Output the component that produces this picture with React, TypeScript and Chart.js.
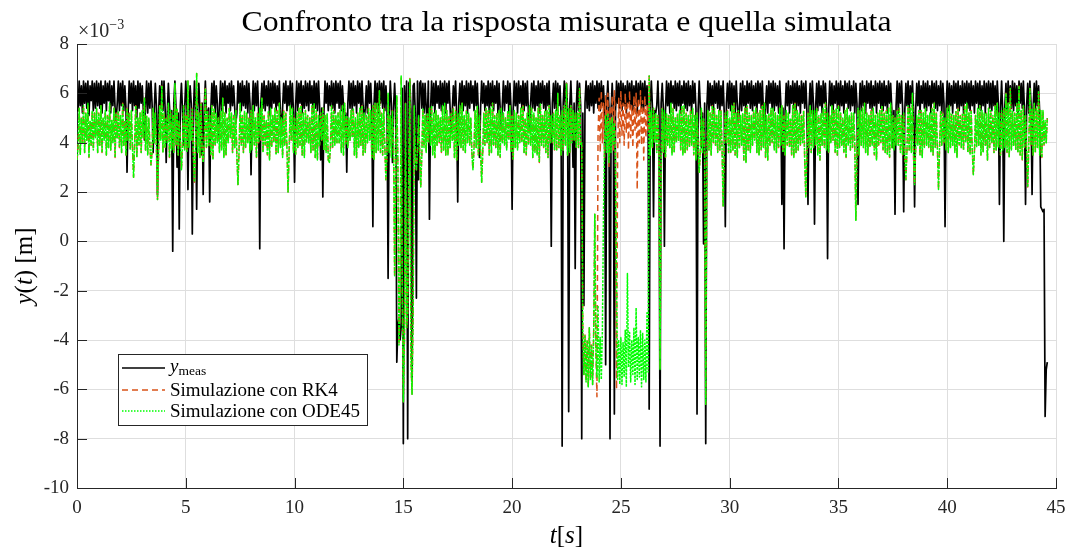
import React, { useEffect, useRef } from "react";
import { Chart, registerables } from "chart.js";

Chart.register(...registerables);

const SERIF = "'Liberation Serif', 'Times New Roman', serif";

// ---- axes / labels ----
const SAMPLE_STEP = 0.05; // seconds between samples
const X_MIN = 0;
const X_MAX = 45;
const X_STEP = 5;
const Y_MIN = -10;
const Y_MAX = 8;
const Y_STEP = 2;
const xTickValues = [0, 5, 10, 15, 20, 25, 30, 35, 40, 45];
const yTickValues = [-10, -8, -6, -4, -2, 0, 2, 4, 6, 8];
const TITLE = "Confronto tra la risposta misurata e quella simulata";
const LABEL_RK4 = "Simulazione con RK4";
const LABEL_ODE45 = "Simulazione con ODE45";

// ---- series (values in units of 1e-3 m, one sample every 0.05 s, 20 per row = 1 s) ----
const yMeas = [
  5.3, 5.3, 6.5, 5.5, 6.3, 5.2, 6.5, 5.6, 6.4, 5.4, 6.5, 5.1, 6.3, 5.7, 6.5, 5.3, 6.4, 5.4, 6.5, 5.5,
  6.4, 5.4, 6.5, 5.2, 6.3, 5.6, 6.5, 5.3, 6.4, 5.7, 6.5, 5.2, 6.3, 5.5, 6.5, 5.4, 4.9, 5.6, 6.5, 5.3,
  6.4, 5.5, 6.5, 5.3, 6.3, 5.4, 2.8, 5.2, 6.5, 5.6, 6.4, 5.3, 6.5, 5.5, 6.3, 5.0, 6.5, 5.4, 6.4, 5.6,
  6.3, 5.3, 4.1, 5.5, 6.5, 5.2, 6.4, 5.4, 6.5, 5.6, 3.6, 5.3, 6.4, 5.5, 1.9, 5.2, 6.3, 5.4, 6.5, 5.3,
  6.5, 5.4, 3.2, 5.2, 6.4, 5.5, 4.6, 5.3, -0.4, 5.6, 6.5, 5.4, 3.0, 5.2, 0.5, 5.5, 6.4, 5.3, 3.9, 5.4,
  6.5, 5.5, 2.1, 5.3, 6.3, 5.6, 0.3, 5.2, 6.5, 5.4, 1.3, 5.5, 6.4, 5.3, 3.5, 5.6, 1.9, 5.4, 6.5, 5.2,
  5.2, 5.4, 1.6, 5.3, 6.4, 5.5, 6.5, 5.2, 6.3, 5.6, 4.2, 5.4, 6.5, 5.3, 6.4, 5.5, 6.5, 5.2, 6.3, 5.6,
  6.4, 5.3, 6.5, 5.5, 6.3, 5.4, 4.8, 5.2, 6.5, 5.6, 6.4, 5.3, 6.5, 5.5, 6.3, 5.4, 6.5, 5.2, 6.4, 5.6,
  2.7, 5.4, 6.5, 5.3, 6.4, 5.5, 6.5, 5.2, -0.3, 5.6, 6.4, 5.4, 6.5, 5.3, 6.3, 5.5, 6.5, 5.1, 6.4, 5.4,
  6.5, 5.6, 6.4, 5.3, 6.3, 5.5, 6.5, 5.2, 4.5, 5.4, 6.4, 5.6, 6.5, 5.3, 6.3, 5.5, 6.5, 5.4, 6.4, 5.2,
  2.4, 5.5, 6.5, 5.3, 6.4, 5.6, 6.5, 5.2, 6.3, 5.4, 6.5, 5.5, 6.4, 5.3, 6.5, 5.6, 6.3, 5.2, 6.5, 5.4,
  6.4, 5.3, 6.5, 5.5, 3.3, 5.4, 1.8, 5.2, 6.5, 5.6, 6.4, 5.3, 6.3, 5.5, 6.5, 5.4, 6.4, 5.2, 6.5, 5.6,
  6.4, 5.4, 6.5, 5.3, 6.3, 5.5, 4.6, 5.2, 2.8, 5.6, 6.5, 5.4, 6.4, 5.3, 6.5, 5.5, 6.3, 5.2, 6.5, 5.6,
  6.4, 5.3, 6.5, 5.5, 4.9, 5.4, 6.3, 5.2, 6.5, 5.6, 6.4, 5.3, 0.6, 5.5, 6.5, 5.4, 6.4, 5.2, 6.5, 5.6,
  6.4, 5.4, 6.5, 5.3, 6.3, 5.5, -1.5, 5.2, 6.5, 5.6, 3.2, 5.4, 6.4, 5.3, -4.9, -3.4, -3.1, -4.0, -3.5, 6.2,
  -8.2, 6.3, 4.5, 6.5, -8.0, 6.4, 6.5, 5.3, -5.6, 6.3, 6.4, 5.2, -2.3, 6.5, 2.5, 6.4, 6.5, 5.4, 6.4, 5.2,
  6.4, 5.4, 4.8, 6.5, 0.9, 5.3, 6.5, 5.5, 6.4, 5.2, 6.5, 5.6, 6.3, 5.4, 6.5, 5.3, 6.4, 5.5, 6.5, 5.2,
  6.4, 5.6, 6.5, 5.4, 4.4, 5.3, 6.3, 5.5, 6.5, 5.2, 1.6, 5.6, 6.4, 5.4, 6.5, 5.3, 6.3, 5.5, 6.5, 5.2,
  6.4, 5.4, 6.5, 5.6, 6.3, 5.3, 6.5, 5.5, 6.4, 5.2, 3.4, 5.4, 6.5, 5.6, 6.4, 5.3, 6.3, 5.5, 6.5, 5.2,
  6.4, 5.5, 6.5, 5.3, 6.3, 5.6, 6.5, 5.2, 6.4, 5.4, 4.7, 5.5, 6.5, 5.3, 6.3, 5.6, 6.5, 5.2, 6.4, 5.4,
  1.3, 5.3, 6.5, 5.5, 6.4, 5.2, 6.5, 5.6, 6.3, 5.4, 6.5, 5.3, 6.4, 5.5, 6.5, 5.2, 4.5, 5.6, 6.4, 5.4,
  6.5, 5.3, 6.3, 5.5, 6.5, 5.2, 6.4, 5.6, 6.5, 5.4, 6.3, 5.3, 6.4, 5.5, 6.5, 5.2, -0.2, 5.6, 6.4, 5.4,
  6.5, 5.3, 6.4, 5.5, 6.3, 5.2, -8.3, 5.6, 6.5, 5.4, 6.4, 5.3, -6.9, 5.5, 6.5, 5.2, 3.0, 5.6, -1.1, 5.4,
  6.5, 5.3, 6.4, 5.5, -8.0, 5.2, -2.6, 5.6, 6.5, 5.4, 6.3, 5.3, 6.4, 5.5, 6.5, 5.2, 6.3, 5.6, 6.5, 5.4,
  6.4, 5.3, 6.5, 5.5, 6.3, 5.2, -5.0, 5.6, 6.5, 5.4, -8.0, 5.3, 6.4, 5.5, -7.0, 5.2, 6.5, 5.6, 6.4, 5.4,
  6.5, 5.3, 6.4, 5.5, 6.3, 5.2, 6.5, 5.6, 6.4, 5.4, 6.5, 5.3, 6.3, 5.5, 6.5, 5.2, 6.4, 5.6, 6.5, 5.4,
  6.4, 5.3, 6.5, 5.5, 6.3, 5.2, -6.8, 5.6, 6.5, 5.4, 1.0, 5.3, 5.2, 5.5, 6.5, 5.2, -8.3, 5.6, 6.4, 5.4,
  -0.2, 5.3, 6.5, 5.5, 6.4, 5.2, 6.5, 5.6, 6.3, 5.4, 6.5, 5.3, 6.4, 5.5, 6.5, 5.2, 6.3, 5.6, 6.5, 5.4,
  6.4, 5.3, 6.5, 5.5, 6.3, 5.2, 6.5, 5.6, 6.4, 5.4, -7.0, 5.3, 6.5, 5.5, 3.8, 5.2, -0.1, 5.6, -8.2, 5.4,
  6.5, 5.3, 6.4, 5.5, 6.3, 5.2, 6.5, 5.6, 6.4, 5.4, 6.5, 5.3, 6.3, 5.5, 6.5, 5.2, 0.6, 5.6, 6.4, 5.4,
  6.5, 5.3, 6.4, 5.5, 6.3, 5.2, 6.5, 5.6, 4.8, 5.4, 6.4, 5.3, 6.5, 5.5, 6.3, 5.2, 6.5, 5.6, 6.4, 5.4,
  6.5, 5.3, 6.3, 5.5, 6.4, 5.2, 6.5, 5.6, 6.4, 5.4, 6.5, 5.3, 4.4, 5.5, 6.3, 5.2, 6.5, 5.6, 6.4, 5.4,
  6.5, 5.3, 6.4, 5.5, 6.3, 5.2, 6.5, 5.6, 1.5, 5.4, -0.3, 5.3, 6.4, 5.5, 6.5, 5.2, 6.3, 5.6, 6.5, 5.4,
  6.4, 5.3, 6.5, 5.5, 6.3, 5.2, 6.5, 5.6, 6.4, 5.4, 6.5, 5.3, 1.5, 5.5, 6.4, 5.2, 6.5, 5.6, 0.7, 5.4,
  6.4, 5.3, 6.5, 5.5, 6.3, 5.2, 6.5, 5.6, 6.4, 5.4, -0.7, 5.3, 6.5, 5.5, 6.4, 5.2, 6.3, 5.6, 6.5, 5.4,
  6.4, 5.3, 6.5, 5.5, 6.3, 5.2, 6.5, 5.6, 6.4, 5.4, 6.5, 5.3, 6.3, 5.5, 6.5, 5.2, 6.4, 5.6, 1.5, 5.4,
  6.4, 5.3, 6.5, 5.5, 6.3, 5.2, 6.5, 5.6, 6.4, 5.4, 6.5, 5.3, 6.3, 5.5, 6.5, 5.2, 6.4, 5.6, 6.5, 5.4,
  6.4, 5.3, 6.5, 5.5, 6.3, 5.2, 6.5, 5.6, 6.4, 5.4, 3.8, 5.3, 1.1, 5.5, 6.5, 5.2, 6.4, 5.6, 6.5, 5.4,
  1.2, 5.3, 6.4, 5.5, 6.5, 5.2, 6.3, 5.6, 6.5, 5.4, 1.4, 5.3, 6.4, 5.5, 6.5, 5.2, 6.3, 5.6, 6.5, 5.4,
  6.4, 5.3, 6.5, 5.5, 6.3, 5.2, 6.5, 5.6, 6.4, 5.4, 6.5, 5.3, 6.3, 5.5, 6.5, 5.2, 6.4, 5.6, 0.6, 5.4,
  6.5, 5.3, 6.4, 5.5, 6.3, 5.2, 6.5, 5.6, 6.4, 5.4, 6.5, 5.3, 6.3, 5.5, 6.5, 5.2, 6.4, 5.6, 6.5, 5.4,
  6.4, 5.3, 6.5, 5.5, 6.3, 5.2, 6.5, 5.6, 6.4, 5.4, 6.5, 5.3, 6.3, 5.5, 6.5, 5.2, 6.4, 5.6, 6.5, 5.4,
  6.4, 5.3, 6.5, 5.5, 6.3, 5.2, 6.5, 5.6, 1.5, 5.4, 6.5, 5.3, 0.0, 5.5, 6.4, 5.2, 6.5, 5.6, 6.3, 5.4,
  6.5, 5.3, 6.4, 5.5, 6.3, 5.2, 6.5, 5.6, 6.4, 5.4, 6.5, 5.3, 1.5, 5.5, 6.4, 5.2, 6.5, 5.6, 1.9, 5.4,
  6.4, 5.3, 6.5, 5.5, 6.3, 5.2, 1.4, 1.3, 1.2, 1.3, -7.1, -5.2, -4.9,
];

const yRK4 = [
  3.3, 3.8, 5.4, 3.5, 5.0, 4.0, 5.5, 3.6, 5.2, 4.1, 5.6, 3.4, 4.9, 3.9, 5.3, 3.7, 5.2, 4.2, 5.4, 3.6,
  5.2, 3.9, 5.5, 3.6, 5.0, 4.1, 5.3, 3.5, 5.1, 3.8, 5.6, 3.7, 4.9, 4.0, 5.4, 3.4, 5.2, 4.2, 5.3, 3.8,
  5.1, 3.6, 5.6, 3.9, 4.9, 3.5, 5.4, 4.1, 5.2, 3.7, 5.3, 3.8, 2.6, 4.0, 5.5, 3.4, 5.0, 3.9, 5.2, 3.6,
  5.3, 4.2, 5.8, 3.7, 5.1, 3.5, 5.0, 3.9, 3.1, 3.6, 5.4, 4.0, 5.2, 3.8, 1.7, 3.5, 5.5, 4.1, 6.3, 3.6,
  5.2, 3.8, 5.0, 4.0, 5.6, 3.4, 5.3, 3.7, 5.1, 3.6, 6.4, 3.9, 5.4, 3.5, 4.9, 4.1, 2.9, 3.8, 5.5, 3.7,
  5.1, 3.6, 6.5, 3.8, 5.0, 4.1, 5.4, 3.5, 2.4, 3.9, 6.8, 3.6, 5.2, 3.4, 5.6, 3.7, 3.2, 4.0, 6.2, 3.8,
  5.3, 3.9, 5.1, 3.5, 5.5, 3.3, 5.4, 3.9, 5.2, 4.0, 5.0, 3.6, 5.3, 3.7, 5.8, 3.4, 5.2, 3.5, 5.0, 4.0,
  5.4, 4.2, 5.2, 3.6, 5.1, 3.8, 5.3, 3.4, 2.3, 3.7, 5.6, 3.9, 5.1, 3.6, 5.3, 3.8, 5.2, 4.0, 5.0, 3.6,
  5.3, 3.7, 5.5, 3.9, 5.0, 3.4, 5.2, 4.0, 5.4, 4.1, 5.8, 3.6, 5.1, 3.9, 4.9, 3.5, 5.3, 3.3, 5.4, 3.8,
  5.1, 4.0, 5.4, 3.5, 5.3, 3.6, 5.6, 3.8, 5.0, 3.4, 5.3, 3.9, 5.2, 3.8, 2.0, 3.6, 5.5, 4.1, 5.4, 3.6,
  5.0, 3.5, 5.2, 3.8, 5.4, 3.9, 5.5, 3.5, 5.2, 3.4, 5.3, 4.0, 5.1, 4.0, 5.0, 3.6, 5.5, 3.7, 5.6, 3.4,
  5.3, 3.3, 5.1, 3.9, 5.2, 4.1, 5.4, 3.7, 5.1, 3.6, 5.2, 3.3, 3.2, 3.8, 5.5, 3.8, 5.3, 3.9, 5.1, 4.0,
  5.2, 4.0, 5.3, 3.6, 5.5, 3.5, 5.6, 3.9, 5.1, 3.8, 5.0, 4.1, 5.3, 4.2, 5.4, 3.5, 5.0, 3.4, 5.2, 3.8,
  5.4, 3.9, 5.5, 3.5, 5.2, 3.6, 5.1, 4.0, 5.4, 4.1, 5.3, 3.4, 5.5, 3.3, 5.6, 3.6, 5.6, 3.7, 6.1, 3.6,
  5.2, 3.5, 5.4, 3.8, 2.5, 3.6, 6.0, 3.6, 5.1, 3.4, 5.3, 3.9, -1.4, 3.2, 5.9, 3.1, -4.2, -2.5, 6.7, -2.0,
  -6.5, -4.0, 5.6, -3.5, -2.9, 3.0, 6.6, -4.8, -6.2, -3.0, 5.5, 3.4, 2.9, 3.7, 5.1, 3.7, 2.2, 3.5, 5.4, 3.8,
  5.1, 3.6, 5.2, 4.0, 5.4, 3.9, 5.5, 3.5, 5.2, 3.4, 5.3, 3.9, 5.1, 4.0, 5.0, 3.6, 5.5, 3.7, 5.6, 3.5,
  5.3, 3.5, 5.1, 3.8, 5.2, 4.1, 5.4, 3.4, 5.3, 3.3, 5.2, 3.9, 5.5, 3.8, 5.6, 3.7, 5.1, 3.6, 5.3, 4.0,
  5.2, 3.9, 5.0, 3.6, 2.9, 3.8, 5.3, 3.8, 5.5, 3.5, 5.1, 3.7, 2.4, 3.6, 5.2, 3.9, 5.4, 4.0, 5.3, 3.5,
  5.4, 3.6, 5.6, 3.9, 5.1, 3.8, 5.2, 3.5, 5.3, 3.4, 5.4, 4.0, 5.2, 3.9, 5.0, 3.7, 5.3, 4.1, 5.5, 3.6,
  5.1, 3.3, 5.3, 3.8, 5.2, 3.7, 5.1, 4.0, 5.4, 4.0, 5.5, 3.6, 5.0, 3.5, 5.2, 3.9, 5.5, 3.9, 5.4, 3.4,
  5.2, 3.6, 5.0, 3.5, 5.4, 3.2, 5.6, 3.9, 5.1, 3.8, 5.3, 3.6, 5.3, 3.4, 5.5, 4.0, 5.1, 4.0, 5.2, 3.7,
  5.3, 3.7, 6.0, 3.8, 5.1, 3.5, 5.3, 3.7, 5.5, 3.9, 6.4, 3.5, 5.4, 3.6, 5.5, 4.0, 5.3, 4.1, 5.2, 3.8,
  5.2, 3.8, 6.2, 3.9, 4.0, -3.6, -5.4, -3.8, -5.7, -4.0, -5.9, -3.5, -5.6, -4.2, -5.8, -3.7, 1.1, -4.5, -6.3, 4.4,
  5.8, 3.6, 6.1, 4.0, 5.6, 3.4, 5.9, 4.2, 6.0, 3.0, 5.5, 4.1, 5.9, 3.7, 6.1, 4.3, -6.0, 3.5, 5.8, 4.0,
  6.1, 4.3, 5.6, 3.9, 6.0, 4.4, 5.7, 3.7, 6.1, 4.2, 5.5, 3.8, 5.9, 4.5, 6.0, 2.1, 5.8, 4.0, 6.1, 3.9,
  5.7, 3.3, 5.9, 4.2, 5.5, 4.4, 6.7, 3.5, 5.3, 3.8, 5.4, 4.0, 5.2, 3.6, 5.1, 3.9, -5.2, 3.2, 5.4, 3.6,
  5.3, 3.4, 5.2, 3.9, 5.1, 3.8, 5.6, 3.5, 5.4, 3.6, 5.0, 4.0, 5.2, 4.1, 5.3, 3.7, 5.5, 3.5, 5.5, 3.6,
  5.2, 3.7, 5.1, 3.8, 5.3, 3.9, 5.4, 3.5, 5.1, 3.3, 5.2, 3.9, 2.8, 3.6, 5.4, 3.6, 5.0, 3.6, -6.6, 3.4,
  5.3, 3.7, 5.2, 3.5, 5.5, 4.0, 5.4, 3.9, 5.1, 3.6, 5.3, 3.7, 5.3, 3.8, 1.4, 3.9, 5.2, 4.0, 5.3, 3.6,
  5.0, 3.6, 5.5, 3.7, 5.6, 3.5, 5.2, 3.4, 5.3, 3.8, 5.1, 3.9, 5.2, 3.3, 5.4, 3.2, 5.5, 3.7, 5.2, 3.6,
  5.1, 3.9, 5.3, 4.1, 5.4, 3.6, 5.2, 3.5, 5.3, 3.7, 5.5, 3.8, 5.6, 3.4, 5.1, 3.3, 5.2, 3.9, 5.4, 4.0,
  5.4, 3.7, 5.2, 3.6, 5.1, 3.8, 5.4, 3.9, 5.5, 3.6, 5.1, 3.5, 5.3, 3.9, 5.2, 3.8, 5.0, 3.5, 5.5, 3.4,
  5.6, 3.6, 5.3, 3.7, 5.2, 3.9, 5.1, 4.0, 5.3, 3.3, 1.8, 3.7, 5.2, 3.8, 5.5, 3.6, 5.3, 3.8, 5.3, 3.9,
  5.4, 3.5, 5.1, 3.3, 5.2, 3.9, 5.4, 3.8, 5.6, 3.7, 5.2, 3.6, 5.1, 4.0, 5.5, 4.1, 5.3, 3.6, 5.4, 3.5,
  5.5, 3.8, 5.2, 3.9, 5.0, 3.6, 5.3, 3.4, 5.4, 3.9, 5.1, 3.7, 5.2, 3.8, 5.2, 4.0, 0.85, 3.6, 5.4, 3.5,
  5.3, 3.9, 5.4, 3.8, 5.6, 3.6, 5.2, 3.5, 5.1, 3.8, 5.3, 3.9, 5.4, 3.5, 5.1, 3.3, 5.2, 3.9, 5.3, 4.0,
  5.5, 3.7, 5.2, 3.6, 5.3, 3.5, 5.4, 3.4, 5.6, 3.8, 5.1, 3.7, 5.0, 3.9, 5.3, 3.9, 5.4, 3.6, 5.1, 3.5,
  5.2, 3.6, 2.5, 3.7, 5.5, 3.7, 5.4, 3.6, 6.0, 3.5, 2.3, 3.8, 5.1, 3.9, 5.3, 3.5, 5.3, 3.4, 5.2, 3.8,
  5.4, 3.9, 5.1, 3.8, 5.2, 3.6, 5.4, 3.5, 5.6, 3.8, 5.2, 3.7, 2.1, 3.9, 5.3, 3.9, 5.2, 4.0, 5.0, 3.7,
  5.4, 3.6, 5.5, 3.8, 5.2, 3.9, 5.1, 3.6, 5.3, 3.4, 5.4, 3.9, 5.1, 3.8, 5.2, 3.7, 5.5, 4.0, 5.6, 3.6,
  5.2, 3.5, 5.3, 3.7, 2.7, 3.6, 5.1, 3.8, 5.4, 3.9, 5.5, 3.5, 5.3, 3.6, 5.2, 3.9, 5.2, 3.3, 5.4, 3.8,
  5.3, 4.0, 5.1, 3.6, 5.5, 3.7, 5.6, 3.8, 5.2, 3.5, 5.3, 3.7, 5.4, 3.8, 6.0, 3.6, 5.6, 3.4, 6.2, 3.7,
  5.3, 3.9, 5.2, 3.7, 5.6, 3.6, 6.3, 3.5, 5.3, 3.3, 5.5, 3.8, 5.1, 3.7, 2.2, 3.9, 6.2, 3.9, 5.4, 3.5,
  5.6, 3.6, 5.4, 3.8, 6.1, 3.5, 5.3, 3.4, 5.3, 3.9, 4.9, 4.0, 5.0,
];

const yODE45 = [
  3.3, 3.8, 5.4, 3.5, 5.0, 4.0, 5.5, 3.6, 5.2, 4.1, 5.6, 3.4, 4.9, 3.9, 5.3, 3.7, 5.2, 4.2, 5.4, 3.6,
  5.2, 3.9, 5.5, 3.6, 5.0, 4.1, 5.3, 3.5, 5.1, 3.8, 5.6, 3.7, 4.9, 4.0, 5.4, 3.4, 5.2, 4.2, 5.3, 3.8,
  5.1, 3.6, 5.6, 3.9, 4.9, 3.5, 5.4, 4.1, 5.2, 3.7, 5.3, 3.8, 2.6, 4.0, 5.5, 3.4, 5.0, 3.9, 5.2, 3.6,
  5.3, 4.2, 5.8, 3.7, 5.1, 3.5, 5.0, 3.9, 3.1, 3.6, 5.4, 4.0, 5.2, 3.8, 1.7, 3.5, 5.5, 4.1, 6.3, 3.6,
  5.2, 3.8, 5.0, 4.0, 5.6, 3.4, 5.3, 3.7, 5.1, 3.6, 6.4, 3.9, 5.4, 3.5, 4.9, 4.1, 2.9, 3.8, 5.5, 3.7,
  5.1, 3.6, 6.5, 3.8, 5.0, 4.1, 5.4, 3.5, 2.4, 3.9, 6.8, 3.6, 5.2, 3.4, 5.6, 3.7, 3.2, 4.0, 6.2, 3.8,
  5.3, 3.9, 5.1, 3.5, 5.5, 3.3, 5.4, 3.9, 5.2, 4.0, 5.0, 3.6, 5.3, 3.7, 5.8, 3.4, 5.2, 3.5, 5.0, 4.0,
  5.4, 4.2, 5.2, 3.6, 5.1, 3.8, 5.3, 3.4, 2.3, 3.7, 5.6, 3.9, 5.1, 3.6, 5.3, 3.8, 5.2, 4.0, 5.0, 3.6,
  5.3, 3.7, 5.5, 3.9, 5.0, 3.4, 5.2, 4.0, 5.4, 4.1, 5.8, 3.6, 5.1, 3.9, 4.9, 3.5, 5.3, 3.3, 5.4, 3.8,
  5.1, 4.0, 5.4, 3.5, 5.3, 3.6, 5.6, 3.8, 5.0, 3.4, 5.3, 3.9, 5.2, 3.8, 2.0, 3.6, 5.5, 4.1, 5.4, 3.6,
  5.0, 3.5, 5.2, 3.8, 5.4, 3.9, 5.5, 3.5, 5.2, 3.4, 5.3, 4.0, 5.1, 4.0, 5.0, 3.6, 5.5, 3.7, 5.6, 3.4,
  5.3, 3.3, 5.1, 3.9, 5.2, 4.1, 5.4, 3.7, 5.1, 3.6, 5.2, 3.3, 3.2, 3.8, 5.5, 3.8, 5.3, 3.9, 5.1, 4.0,
  5.2, 4.0, 5.3, 3.6, 5.5, 3.5, 5.6, 3.9, 5.1, 3.8, 5.0, 4.1, 5.3, 4.2, 5.4, 3.5, 5.0, 3.4, 5.2, 3.8,
  5.4, 3.9, 5.5, 3.5, 5.2, 3.6, 5.1, 4.0, 5.4, 4.1, 5.3, 3.4, 5.5, 3.3, 5.6, 3.6, 5.6, 3.7, 6.1, 3.6,
  5.2, 3.5, 5.4, 3.8, 2.5, 3.6, 6.0, 3.6, 5.1, 3.4, 5.3, 3.9, -1.4, 3.2, 5.9, 3.1, -4.2, -2.5, 6.7, -2.0,
  -6.5, -4.0, 5.6, -3.5, -2.9, 3.0, 6.6, -4.8, -6.2, -3.0, 5.5, 3.4, 2.9, 3.7, 5.1, 3.7, 2.2, 3.5, 5.4, 3.8,
  5.1, 3.6, 5.2, 4.0, 5.4, 3.9, 5.5, 3.5, 5.2, 3.4, 5.3, 3.9, 5.1, 4.0, 5.0, 3.6, 5.5, 3.7, 5.6, 3.5,
  5.3, 3.5, 5.1, 3.8, 5.2, 4.1, 5.4, 3.4, 5.3, 3.3, 5.2, 3.9, 5.5, 3.8, 5.6, 3.7, 5.1, 3.6, 5.3, 4.0,
  5.2, 3.9, 5.0, 3.6, 2.9, 3.8, 5.3, 3.8, 5.5, 3.5, 5.1, 3.7, 2.4, 3.6, 5.2, 3.9, 5.4, 4.0, 5.3, 3.5,
  5.4, 3.6, 5.6, 3.9, 5.1, 3.8, 5.2, 3.5, 5.3, 3.4, 5.4, 4.0, 5.2, 3.9, 5.0, 3.7, 5.3, 4.1, 5.5, 3.6,
  5.1, 3.3, 5.3, 3.8, 5.2, 3.7, 5.1, 4.0, 5.4, 4.0, 5.5, 3.6, 5.0, 3.5, 5.2, 3.9, 5.5, 3.9, 5.4, 3.4,
  5.2, 3.6, 5.0, 3.5, 5.4, 3.2, 5.6, 3.9, 5.1, 3.8, 5.3, 3.6, 5.3, 3.4, 5.5, 4.0, 5.1, 4.0, 5.2, 3.7,
  5.3, 3.7, 6.0, 3.8, 5.1, 3.5, 5.3, 3.7, 5.5, 3.9, 6.4, 3.5, 5.4, 3.6, 5.5, 4.0, 5.3, 4.1, 5.2, 3.8,
  5.2, 3.8, 6.2, 3.9, 4.0, -3.6, -5.4, -3.8, -5.7, -4.0, -5.9, -3.5, -5.6, -4.2, -5.8, -3.7, 1.1, -4.5, -5.5, -2.6,
  -5.7, -3.9, -5.6, -3.6, 1.2, 3.9, 5.1, 3.6, 5.2, 3.2, 4.9, 3.6, 5.0, 3.9, 4.8, 3.4, -1.8, -5.6, -4.0, -5.8,
  -3.9, -5.8, -4.1, -5.5, -3.6, -5.9, -1.3, -5.1, -3.7, -5.7, -4.0, -5.4, -3.5, -5.8, -2.7, -5.6, -3.9, -5.5, -3.6, -5.9,
  -3.7, -5.6, -4.0, -5.7, -2.9, -5.3, 6.7, 3.5, 5.3, 3.8, 5.4, 4.0, 5.2, 3.6, 5.1, 3.9, -5.2, 3.2, 5.4, 3.6,
  5.3, 3.4, 5.2, 3.9, 5.1, 3.8, 5.6, 3.5, 5.4, 3.6, 5.0, 4.0, 5.2, 4.1, 5.3, 3.7, 5.5, 3.5, 5.5, 3.6,
  5.2, 3.7, 5.1, 3.8, 5.3, 3.9, 5.4, 3.5, 5.1, 3.3, 5.2, 3.9, 2.8, 3.6, 5.4, 3.6, 5.0, 3.6, -6.6, 3.4,
  5.3, 3.7, 5.2, 3.5, 5.5, 4.0, 5.4, 3.9, 5.1, 3.6, 5.3, 3.7, 5.3, 3.8, 1.4, 3.9, 5.2, 4.0, 5.3, 3.6,
  5.0, 3.6, 5.5, 3.7, 5.6, 3.5, 5.2, 3.4, 5.3, 3.8, 5.1, 3.9, 5.2, 3.3, 5.4, 3.2, 5.5, 3.7, 5.2, 3.6,
  5.1, 3.9, 5.3, 4.1, 5.4, 3.6, 5.2, 3.5, 5.3, 3.7, 5.5, 3.8, 5.6, 3.4, 5.1, 3.3, 5.2, 3.9, 5.4, 4.0,
  5.4, 3.7, 5.2, 3.6, 5.1, 3.8, 5.4, 3.9, 5.5, 3.6, 5.1, 3.5, 5.3, 3.9, 5.2, 3.8, 5.0, 3.5, 5.5, 3.4,
  5.6, 3.6, 5.3, 3.7, 5.2, 3.9, 5.1, 4.0, 5.3, 3.3, 1.8, 3.7, 5.2, 3.8, 5.5, 3.6, 5.3, 3.8, 5.3, 3.9,
  5.4, 3.5, 5.1, 3.3, 5.2, 3.9, 5.4, 3.8, 5.6, 3.7, 5.2, 3.6, 5.1, 4.0, 5.5, 4.1, 5.3, 3.6, 5.4, 3.5,
  5.5, 3.8, 5.2, 3.9, 5.0, 3.6, 5.3, 3.4, 5.4, 3.9, 5.1, 3.7, 5.2, 3.8, 5.2, 4.0, 0.85, 3.6, 5.4, 3.5,
  5.3, 3.9, 5.4, 3.8, 5.6, 3.6, 5.2, 3.5, 5.1, 3.8, 5.3, 3.9, 5.4, 3.5, 5.1, 3.3, 5.2, 3.9, 5.3, 4.0,
  5.5, 3.7, 5.2, 3.6, 5.3, 3.5, 5.4, 3.4, 5.6, 3.8, 5.1, 3.7, 5.0, 3.9, 5.3, 3.9, 5.4, 3.6, 5.1, 3.5,
  5.2, 3.6, 2.5, 3.7, 5.5, 3.7, 5.4, 3.6, 6.0, 3.5, 2.3, 3.8, 5.1, 3.9, 5.3, 3.5, 5.3, 3.4, 5.2, 3.8,
  5.4, 3.9, 5.1, 3.8, 5.2, 3.6, 5.4, 3.5, 5.6, 3.8, 5.2, 3.7, 2.1, 3.9, 5.3, 3.9, 5.2, 4.0, 5.0, 3.7,
  5.4, 3.6, 5.5, 3.8, 5.2, 3.9, 5.1, 3.6, 5.3, 3.4, 5.4, 3.9, 5.1, 3.8, 5.2, 3.7, 5.5, 4.0, 5.6, 3.6,
  5.2, 3.5, 5.3, 3.7, 2.7, 3.6, 5.1, 3.8, 5.4, 3.9, 5.5, 3.5, 5.3, 3.6, 5.2, 3.9, 5.2, 3.3, 5.4, 3.8,
  5.3, 4.0, 5.1, 3.6, 5.5, 3.7, 5.6, 3.8, 5.2, 3.5, 5.3, 3.7, 5.4, 3.8, 6.0, 3.6, 5.6, 3.4, 6.2, 3.7,
  5.3, 3.9, 5.2, 3.7, 5.6, 3.6, 6.3, 3.5, 5.3, 3.3, 5.5, 3.8, 5.1, 3.7, 2.2, 3.9, 6.2, 3.9, 5.4, 3.5,
  5.6, 3.6, 5.4, 3.8, 6.1, 3.5, 5.3, 3.4, 5.3, 3.9, 4.9, 4.0, 5.0,
];

const COLORS = {
  meas: "#000000",
  rk4: "#D95319",
  ode45: "#00FF00",
  axis: "#262626",
  grid: "#dedede",
  text: "#000000",
};

const ODE45_DASH = [2.5, 1.2];
const RK4_DASH = [6, 4];

type Run = { text: string; font: string; dy?: number };

function runsWidth(ctx: CanvasRenderingContext2D, runs: Run[]) {
  let w = 0;
  for (const r of runs) {
    ctx.font = r.font;
    w += ctx.measureText(r.text).width;
  }
  return w;
}

function drawRuns(ctx: CanvasRenderingContext2D, runs: Run[], x: number, y: number) {
  let cx = x;
  for (const r of runs) {
    ctx.font = r.font;
    ctx.fillText(r.text, cx, y + (r.dy || 0));
    cx += ctx.measureText(r.text).width;
  }
}

const decorPlugin = {
  id: "decor",
  afterDraw(chart: any) {
    const ctx: CanvasRenderingContext2D = chart.ctx;
    const a = chart.chartArea;
    const xs = chart.scales.x;
    const ys = chart.scales.y;
    ctx.save();

    // inward tick marks
    ctx.strokeStyle = COLORS.axis;
    ctx.lineWidth = 1;
    ctx.setLineDash([]);
    ctx.beginPath();
    for (const v of xTickValues) {
      const px = Math.round(xs.getPixelForValue(v)) + 0.5;
      ctx.moveTo(px, a.bottom);
      ctx.lineTo(px, a.bottom - 10);
    }
    for (const v of yTickValues) {
      const py = Math.round(ys.getPixelForValue(v)) + 0.5;
      ctx.moveTo(a.left, py);
      ctx.lineTo(a.left + 10, py);
    }
    ctx.stroke();

    ctx.fillStyle = COLORS.text;
    ctx.textBaseline = "alphabetic";

    // title (stretched horizontally to the LaTeX-like width)
    ctx.font = `29px ${SERIF}`;
    const tw = ctx.measureText(TITLE).width;
    const sx = 650 / tw;
    ctx.save();
    ctx.translate((a.left + a.right) / 2, 31);
    ctx.scale(sx, 1);
    ctx.textAlign = "center";
    ctx.fillText(TITLE, 0, 0);
    ctx.restore();

    // exponent marker
    ctx.textAlign = "left";
    ctx.fillStyle = COLORS.axis;
    drawRuns(
      ctx,
      [
        { text: "\u00d710", font: `20px ${SERIF}` },
        { text: "\u22123", font: `14px ${SERIF}`, dy: -8 },
      ],
      a.left + 1,
      37
    );

    ctx.fillStyle = COLORS.text;
    // x label: t[s]
    const xRuns: Run[] = [
      { text: "t", font: `italic 25px ${SERIF}` },
      { text: "[", font: `25px ${SERIF}` },
      { text: "s", font: `italic 25px ${SERIF}` },
      { text: "]", font: `25px ${SERIF}` },
    ];
    const xw = runsWidth(ctx, xRuns);
    drawRuns(ctx, xRuns, (a.left + a.right) / 2 - xw / 2, 543);

    // y label: y(t) [m]
    const yRuns: Run[] = [
      { text: "y", font: `italic 25px ${SERIF}` },
      { text: "(", font: `25px ${SERIF}` },
      { text: "t", font: `italic 25px ${SERIF}` },
      { text: ")", font: `25px ${SERIF}` },
      { text: " [m]", font: `25px ${SERIF}` },
    ];
    const yw = runsWidth(ctx, yRuns);
    ctx.save();
    ctx.translate(27, (a.top + a.bottom) / 2);
    ctx.rotate(-Math.PI / 2);
    drawRuns(ctx, yRuns, -yw / 2, 5);
    ctx.restore();

    // legend
    const lx = 118.5;
    const ly = 354.5;
    const lw = 249;
    const lh = 71;
    ctx.fillStyle = "#ffffff";
    ctx.fillRect(lx, ly, lw, lh);
    ctx.strokeStyle = COLORS.axis;
    ctx.lineWidth = 1;
    ctx.strokeRect(lx, ly, lw, lh);

    const rows = [
      { y: 368, color: COLORS.meas, dash: [] as number[] },
      { y: 390, color: COLORS.rk4, dash: RK4_DASH },
      { y: 411, color: COLORS.ode45, dash: [1.5, 1.5] },
    ];
    for (const r of rows) {
      ctx.strokeStyle = r.color;
      ctx.lineWidth = 1.5;
      ctx.setLineDash(r.dash);
      ctx.beginPath();
      ctx.moveTo(122, r.y);
      ctx.lineTo(165, r.y);
      ctx.stroke();
    }
    ctx.setLineDash([]);
    ctx.fillStyle = COLORS.text;
    drawRuns(
      ctx,
      [
        { text: "y", font: `italic 19px ${SERIF}` },
        { text: "meas", font: `13.5px ${SERIF}`, dy: 3 },
      ],
      170,
      372
    );
    ctx.font = `19px ${SERIF}`;
    ctx.fillText(LABEL_RK4, 170, 396);
    ctx.fillText(LABEL_ODE45, 170, 417);

    ctx.restore();
  },
};

function toPoints(values: number[]) {
  return values.map((v, i) => ({ x: Math.round(i * SAMPLE_STEP * 1000) / 1000, y: v }));
}

export default function App() {
  const canvasRef = useRef<HTMLCanvasElement>(null);

  useEffect(() => {
    const canvas = canvasRef.current;
    if (!canvas) return;
    const tickFont = { family: SERIF, size: 19 };
    const chart = new Chart(canvas, {
      type: "line",
      data: {
        datasets: [
          {
            label: "y_meas",
            data: toPoints(yMeas),
            borderColor: COLORS.meas,
            borderWidth: 1.7,
            pointRadius: 0,
            borderJoinStyle: "round",
            tension: 0,
            order: 3,
          },
          {
            label: LABEL_RK4,
            data: toPoints(yRK4),
            borderColor: COLORS.rk4,
            borderWidth: 1.5,
            borderDash: RK4_DASH,
            pointRadius: 0,
            borderJoinStyle: "round",
            tension: 0,
            order: 2,
          },
          {
            label: LABEL_ODE45,
            data: toPoints(yODE45),
            borderColor: COLORS.ode45,
            borderWidth: 1.5,
            borderDash: ODE45_DASH,
            pointRadius: 0,
            borderJoinStyle: "round",
            tension: 0,
            order: 1,
          },
        ],
      } as any,
      options: {
        responsive: false,
        animation: false,
        devicePixelRatio: 1,
        events: [],
        layout: { padding: { top: 44, right: 19, left: 0, bottom: 0 } },
        plugins: {
          legend: { display: false },
          tooltip: { enabled: false },
          title: { display: false },
        },
        scales: {
          x: {
            type: "linear",
            min: X_MIN,
            max: X_MAX,
            ticks: {
              stepSize: X_STEP,
              padding: 9,
              font: tickFont,
              color: COLORS.axis,
              maxRotation: 0,
              autoSkip: false,
            },
            grid: { color: COLORS.grid, drawTicks: false, lineWidth: 1 },
            border: { color: COLORS.axis, width: 1 },
            afterFit: (s: any) => {
              s.height = 64;
            },
          },
          y: {
            type: "linear",
            min: Y_MIN,
            max: Y_MAX,
            ticks: {
              stepSize: Y_STEP,
              padding: 8,
              font: tickFont,
              color: COLORS.axis,
              autoSkip: false,
            },
            grid: { color: COLORS.grid, drawTicks: false, lineWidth: 1 },
            border: { color: COLORS.axis, width: 1 },
            afterFit: (s: any) => {
              s.width = 77;
            },
          },
        },
      } as any,
      plugins: [decorPlugin],
    });
    return () => chart.destroy();
  }, []);

  return (
    <div
      style={{
        position: "fixed",
        left: 0,
        top: 0,
        width: 1075,
        height: 552,
        background: "#ffffff",
      }}
    >
      <canvas ref={canvasRef} width={1075} height={552} style={{ display: "block" }} />
    </div>
  );
}
